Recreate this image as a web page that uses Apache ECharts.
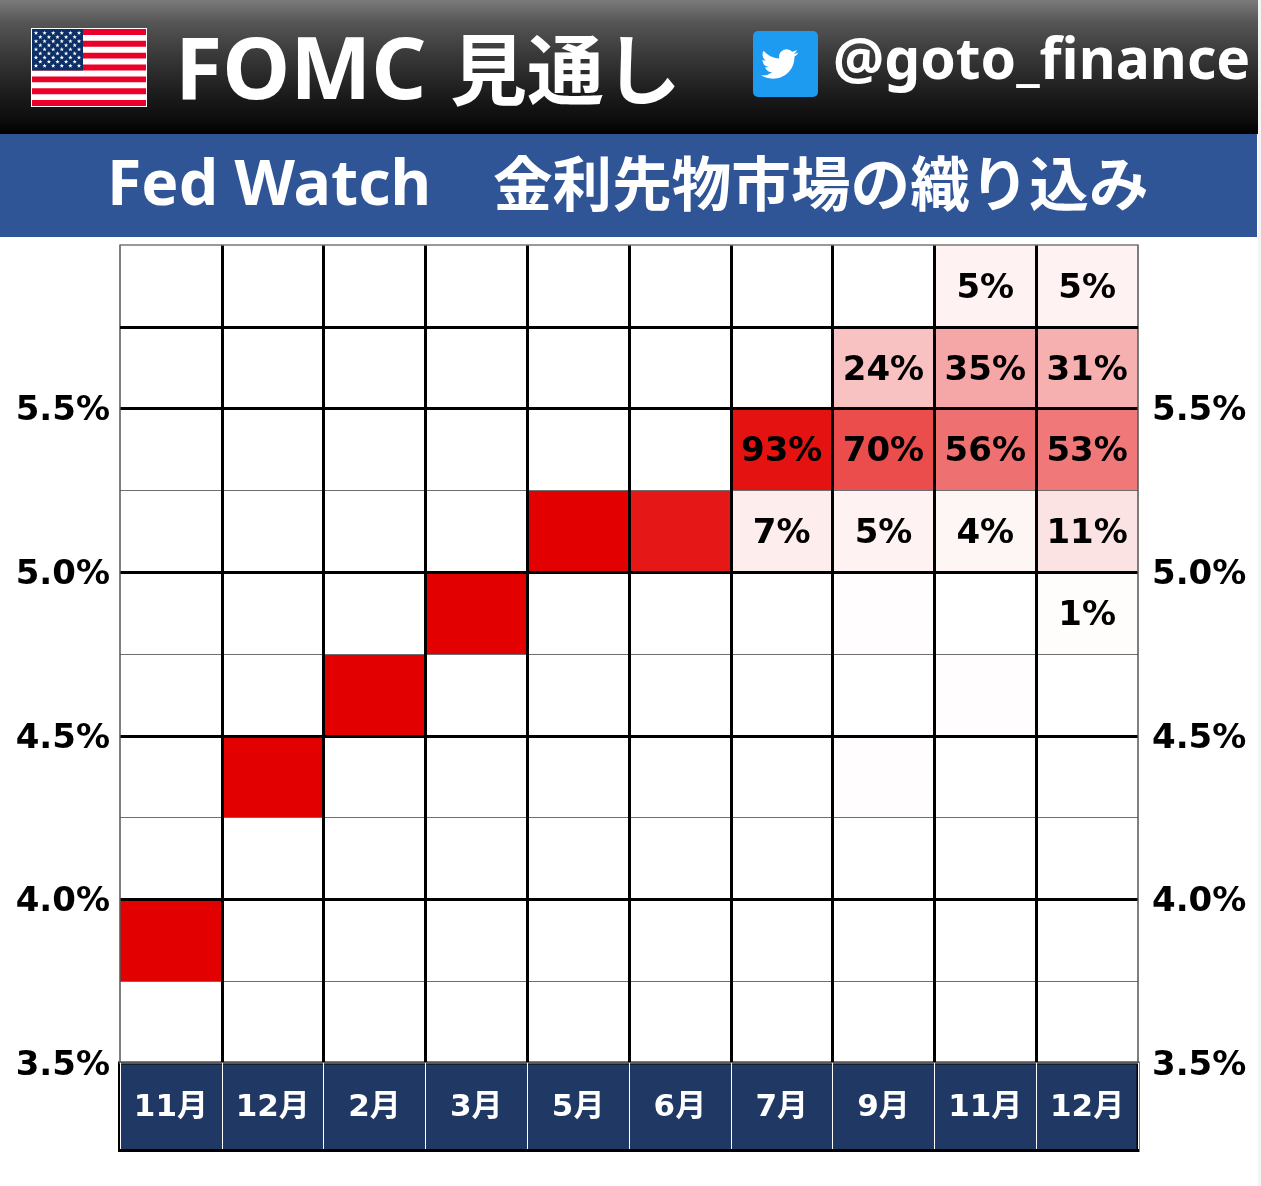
<!DOCTYPE html>
<html><head><meta charset="utf-8">
<style>html,body{margin:0;padding:0;background:#fff;overflow:hidden}#c{width:1261px;height:1186px}</style>
<script src="https://cdn.jsdelivr.net/npm/echarts@6/dist/echarts.min.js"></script>
</head><body><div id="c"></div>
<script>
// categories
const months = ['11月','12月','2月','3月','5月','6月','7月','9月','11月','12月'];
// rate band lower bounds (each band is 0.25 wide), probability in %
const cellColumn = [0,1,2,3,4,5, 6,7,8,9, 7,8,9, 6,7,8,9, 8,9, 7,9, 8, 7];
const cellBand   = [3.75,4.25,4.5,4.75,5,5, 5.25,5.25,5.25,5.25, 5.5,5.5,5.5, 5,5,5,5, 5.75,5.75, 4.75,4.75, 4.5, 4.25];
const cellValue  = [100,100,100,100,100,91, 93,70,56,53, 24,35,31, 7,5,4,11, 5,5, 0.6,1, 0.6, 0.6];
const cellLabel  = ['','','','','','', '93%','70%','56%','53%', '24%','35%','31%', '7%','5%','4%','11%', '5%','5%', '','1%', '', ''];
const thickExtraLines = [5.75];
const thinExtraLines = [6];

const LAT = '"DejaVu Sans","Noto Sans CJK JP",sans-serif';
const HEAD = '"Noto Sans","Noto Sans CJK JP",sans-serif';
const CJK = '"Noto Sans CJK JP",sans-serif';
const AX_FS = 34, CELL_FS = 34;

const data = cellColumn.map((c,i)=>[c,cellBand[i],cellValue[i]]);

function starPath(){
  let d='';
  for(let r=0;r<9;r++){
    const n=r%2?5:6;
    for(let k=0;k<n;k++){
      const cx=36+(r%2?4.3:0)+k*8.6, cy=33+r*4.1, R=2.3, q=0.95;
      for(let p=0;p<10;p++){
        const a=-Math.PI/2+p*Math.PI/5, rr=p%2?q:R;
        d+=(p?'L':'M')+(cx+rr*Math.cos(a)).toFixed(2)+' '+(cy+rr*Math.sin(a)).toFixed(2);
      }
      d+='Z';
    }
  }
  return d;
}
const bird='M23.953 4.57a10 10 0 0 1-2.825.775 4.958 4.958 0 0 0 2.163-2.723c-.951.555-2.005.959-3.127 1.184a4.92 4.92 0 0 0-8.384 4.482C7.69 8.095 4.067 6.13 1.64 3.162a4.822 4.822 0 0 0-.666 2.475c0 1.71.87 3.213 2.188 4.096a4.904 4.904 0 0 1-2.228-.616v.06a4.923 4.923 0 0 0 3.946 4.827 4.996 4.996 0 0 1-2.212.085 4.936 4.936 0 0 0 4.604 3.417 9.867 9.867 0 0 1-6.102 2.105c-.39 0-.779-.023-1.17-.067a13.995 13.995 0 0 0 7.557 2.209c9.053 0 13.998-7.496 13.998-13.985 0-.21 0-.42-.015-.63A9.935 9.935 0 0 0 24 4.59z';
echarts.graphic.registerShape('flagStars',echarts.graphic.extendPath(starPath(),{}));
echarts.graphic.registerShape('twBird',echarts.graphic.extendPath(bird,{}));

const flag=[{type:'rect',shape:{x:31,y:28,width:116,height:79},style:{fill:'#fff'}}];
for(let i=0;i<13;i+=2){
  flag.push({type:'rect',shape:{x:32,y:29+i*77/13,width:114,height:77/13},style:{fill:'#ea0029'}});
}
flag.push({type:'rect',shape:{x:32,y:29,width:51,height:41.5},style:{fill:'#0b2f66'}});
flag.push({type:'flagStars',style:{fill:'#fff'}});

const T=(x,y,text,font,size,align)=>({type:'text',x,y,style:{text,fill:'#fff',font:`bold ${size}px ${font}`,textAlign:align||'left',textVerticalAlign:'middle'}});

const graphic=[
  {type:'rect',z:-1,shape:{x:0,y:0,width:1258,height:134},style:{fill:new echarts.graphic.LinearGradient(0,0,0,1,[
    {offset:0,color:'#7a7a7a'},{offset:.17,color:'#555555'},{offset:.4,color:'#3a3a3a'},{offset:.7,color:'#1c1c1c'},{offset:.9,color:'#0c0c0c'},{offset:1,color:'#000000'}])}},
  {type:'rect',z:-1,shape:{x:0,y:134,width:1257,height:103},style:{fill:'#2f5597'}},
  {type:'rect',z:-1,shape:{x:1258,y:0,width:3,height:1186},style:{fill:'#f3f3f3'}},
  {type:'rect',z:-1,shape:{x:119.5,y:1063,width:1018.5,height:87.5},style:{fill:'#203864',stroke:'#000',lineWidth:3}},
  ...flag,
  {type:'rect',shape:{x:753,y:31,width:65,height:66,r:5},style:{fill:'#1d9bf0'}},
  {type:'twBird',x:761,y:46,scaleX:1.55,scaleY:1.5,style:{fill:'#fff'}},
  T(175,74,'FOMC',HEAD,86),
  T(450,70,'見通し',CJK,77),
  T(833,63,'@goto_finance',HEAD,57),
  T(107,187,'Fed Watch',HEAD,62.5),
  T(493,183,'金利先物市場の織り込み',CJK,59.6)
];

const yCommon={type:'value',min:3.5,max:6,interval:0.5,z:5,
  axisLine:{show:true,lineStyle:{color:'#555',width:1.5}},axisTick:{show:false},
  minorTick:{show:false,splitNumber:2}};
const yLabel={showMaxLabel:false,
  formatter:v=>'{v|'+v.toFixed(1)+'%}',
  rich:{v:{color:'#000',fontFamily:LAT,fontWeight:'bold',fontSize:AX_FS,padding:[6,0,0,0]}}};

const option={
  animation:false,
  graphic:{elements:graphic},
  grid:{left:120,right:123,top:245,height:818,containLabel:false},
  xAxis:{type:'category',data:months,boundaryGap:true,z:5,
    axisLine:{show:true,onZero:false,lineStyle:{color:'#777',width:1.5}},
    axisTick:{show:true,length:86,interval:0,alignWithLabel:false,lineStyle:{color:'#fff',width:1}},
    axisLabel:{interval:0,color:'#fff',fontFamily:LAT,fontWeight:'bold',fontSize:31,margin:29},
    splitLine:{show:true,interval:0,showMinLine:false,showMaxLine:false,lineStyle:{color:'#000',width:3}}},
  yAxis:[
    {...yCommon,position:'left',
      axisLabel:{...yLabel,margin:10},
      splitLine:{show:true,showMinLine:false,showMaxLine:false,lineStyle:{color:'#000',width:3}},
      minorSplitLine:{show:true,lineStyle:{color:'#6e6e6e',width:1.2}}},
    {...yCommon,position:'right',axisLabel:{...yLabel,margin:14},splitLine:{show:false}}
  ],
  visualMap:{show:false,type:'continuous',dimension:2,seriesIndex:0,min:0,max:100,inRange:{color:['#ffffff','#e30000']}},
  series:[{
    type:'custom',z:2,xAxisIndex:0,yAxisIndex:0,
    encode:{x:0,y:1},
    data,
    renderItem(params,api){
      const col=api.value(0), low=api.value(1);
      const tl=api.coord([col,low+0.25]), br=api.coord([col,low]);
      const w=api.size([1,0])[0];
      const children=[{type:'rect',shape:{x:tl[0]-w/2,y:tl[1],width:w,height:br[1]-tl[1]},style:{fill:api.visual('color')}}];
      const label=cellLabel[params.dataIndex];
      if(label)children.push({type:'text',x:tl[0],y:(tl[1]+br[1])/2+3,style:{text:label,fill:'#000',font:`bold ${CELL_FS}px ${LAT}`,textAlign:'center',textVerticalAlign:'middle'}});
      return {type:'group',children};
    },
    markLine:{silent:true,symbol:'none',label:{show:false},z:6,
      data:[
        ...thickExtraLines.map(v=>({yAxis:v,lineStyle:{color:'#000',width:3,type:'solid'}})),
        ...thinExtraLines.map(v=>({yAxis:v,lineStyle:{color:'#777',width:1.5,type:'solid'}}))
      ]}
  }]
};
echarts.init(document.getElementById('c'),null,{renderer:'canvas'}).setOption(option);
</script></body></html>
